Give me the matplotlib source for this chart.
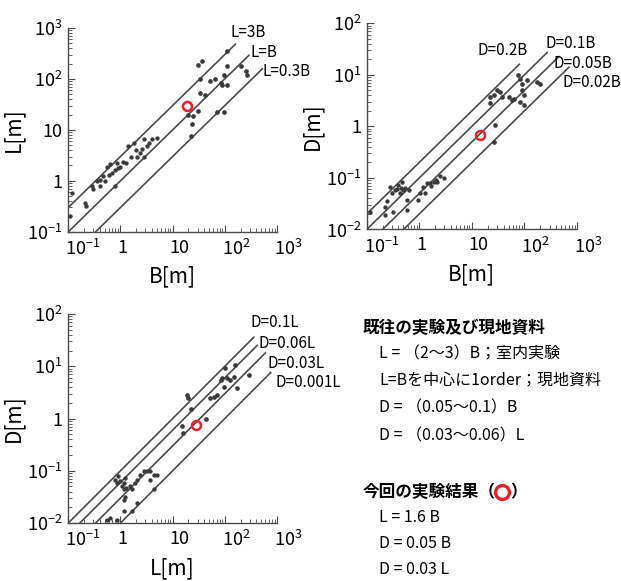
import numpy as np
import matplotlib
matplotlib.use("Agg")
import matplotlib.pyplot as plt
import matplotlib.transforms as mtrans
from matplotlib.lines import Line2D

plt.rcParams['font.family'] = ['Noto Sans CJK JP', 'DejaVu Sans']
plt.rcParams['mathtext.fontset'] = 'custom'
plt.rcParams['mathtext.rm'] = 'Noto Sans CJK JP'
plt.rcParams['mathtext.it'] = 'Noto Sans CJK JP'
plt.rcParams['mathtext.bf'] = 'Noto Sans CJK JP:bold'

# --- data ---
# top left: L vs B
tl_lab_B = [0.107, 0.12, 0.21, 0.22, 0.28, 0.3, 0.35, 0.41, 0.41, 0.47, 0.5, 0.55, 0.6, 0.63, 0.68,
            0.79, 0.79, 0.85, 0.9, 0.99, 1.1, 1.3, 1.4, 1.6, 1.8, 2.0, 2.1, 2.4, 2.6, 2.8, 2.8,
            3.2, 3.5, 4.0, 5.0]
tl_lab_L = [0.2, 0.58, 0.37, 0.32, 0.79, 0.7, 0.99, 1.06, 0.79, 1.23, 1.0, 1.9, 1.3, 2.1, 1.4,
            1.66, 0.79, 2.2, 1.8, 1.9, 2.3, 2.2, 4.8, 3.0, 5.6, 4.0, 3.0, 3.5, 4.2, 6.5, 3.0,
            4.8, 5.5, 6.5, 6.9]
tl_field_B = [30, 36, 34, 34, 42, 53, 66, 83, 96, 110, 89, 110, 110, 200, 250, 270, 30, 25, 23,
              71, 96, 22, 20]
tl_field_L = [190, 220, 98, 54, 49, 89, 98, 84, 120, 77, 77, 180, 350, 180, 140, 120, 23, 19, 13,
              22, 22, 7.6, 20]
tl_now = (19, 29)
tl_coef = [3, 1, 0.3]
tl_end = [160, 290, 525]
tl_names = ['L=3B', 'L=B', 'L=0.3B']
tl_name_xy = [(130, 800), (310, 325), (525, 137)]

# top right: D vs B
tr_lab_B = [0.115, 0.22, 0.24, 0.22, 0.3, 0.32, 0.28, 0.35, 0.38, 0.4, 0.43, 0.45, 0.47, 0.5,
            0.54, 0.58, 0.58, 0.63, 0.96, 1.05, 1.2, 1.3, 1.4, 1.6, 1.7, 1.9, 2.1, 2.2, 2.5, 2.9]
tr_lab_D = [0.022, 0.027, 0.035, 0.019, 0.05, 0.022, 0.068, 0.058, 0.06, 0.072, 0.05, 0.065, 0.083,
            0.058, 0.063, 0.037, 0.024, 0.058, 0.037, 0.05, 0.068, 0.05, 0.078, 0.078, 0.07,
            0.083, 0.09, 0.085, 0.11, 0.1]
tr_field_B = [22, 22, 26, 30, 35, 37, 50, 58, 62, 77, 83, 89, 89, 96, 110, 96, 175, 200, 27, 26, 83]
tr_field_D = [2.8, 3.7, 4.0, 5.0, 4.6, 3.7, 3.7, 3.2, 3.4, 9.7, 8.4, 6.7, 5.0, 4.0, 7.8, 2.6, 7.2,
              6.7, 1.05, 0.5, 3.0]
tr_now = (14.5, 0.68)
tr_coef = [0.2, 0.1, 0.05, 0.02]
tr_end = [80, 270, 450, 700]
tr_names = ['D=0.2B', 'D=0.1B', 'D=0.05B', 'D=0.02B']
tr_name_xy = [(12.6, 29), (250, 40), (355, 16.6), (525, 7.1)]

# bottom left: D vs L
bl_lab_L = [0.55, 0.63, 0.85, 0.85, 0.79, 0.91, 0.99, 1.07, 1.15, 1.24, 1.3, 1.5, 1.65, 1.15, 1.24,
            1.9, 2.1, 2.4, 2.8, 3.2, 3.7, 4.3, 5.0, 3.7, 1.15, 1.65, 2.1, 4.3, 1.15]
bl_lab_D = [0.0115, 0.0125, 0.0115, 0.058, 0.067, 0.078, 0.063, 0.05, 0.044, 0.032, 0.047, 0.05,
            0.044, 0.058, 0.072, 0.058, 0.067, 0.084, 0.098, 0.1, 0.098, 0.084, 0.084, 0.067,
            0.017, 0.017, 0.024, 0.044, 0.028]
bl_field_L = [20, 19, 22, 15, 16, 43, 53, 61, 71, 83, 89, 110, 127, 148, 102, 160, 173, 96, 290]
bl_field_D = [2.45, 2.8, 1.5, 0.71, 0.52, 1.0, 2.45, 2.6, 2.8, 5.5, 5.9, 5.9, 5.5, 6.3, 9.1, 10.7,
              3.8, 4.1, 6.8]
bl_now = (27.6, 0.76)
bl_coef = [0.1, 0.06, 0.03, 0.01]
bl_end = [360, 420, 600, 760]
bl_names = ['D=0.1L', 'D=0.06L', 'D=0.03L', 'D=0.001L']
bl_name_xy = [(310, 69), (445, 27.5), (665, 11.5), (940, 5.0)]

x_ticks = [0.1, 1, 10, 100, 1000]
x_labels = [r'$10^{-1}$', '1', '10', r'$10^{2}$', r'$10^{3}$']
tl_yticks = [0.1, 1, 10, 100, 1000]
tl_ylabels = [r'$10^{-1}$', '1', '10', r'$10^{2}$', r'$10^{3}$']
d_yticks = [0.01, 0.1, 1, 10, 100]
d_ylabels = [r'$10^{-2}$', r'$10^{-1}$', '1', r'$10^{1}$', r'$10^{2}$']

legend_lines = [
    ('既往の実験及び現地資料', 'head'),
    ('L = （2～3）B；室内実験', 'item'),
    ('L=Bを中心に1order；現地資料', 'item'),
    ('D = （0.05～0.1）B', 'item'),
    ('D = （0.03～0.06）L', 'item'),
    ('今回の実験結果', 'now'),
    ('L = 1.6 B', 'item'),
    ('D = 0.05 B', 'item'),
    ('D = 0.03 L', 'item'),
]
legend_y = [328, 354, 380, 408, 436, 492, 518, 544, 570]

gray = '#4a4a4a'
W, H = 621, 581
fig = plt.figure(figsize=(W / 100, H / 100), dpi=100)


def panel(rect, xs1, ys1, xs2, ys2, now, coefs, ends, names, name_xy,
          ylim, yticks, ylabels, xlabel, ylabel):
    ax = fig.add_axes(rect)
    ax.set_xscale('log')
    ax.set_yscale('log')
    ax.set_xlim(0.1, 1000)
    ax.set_ylim(*ylim)
    for c, e in zip(coefs, ends):
        x0 = max(0.1, ylim[0] / c)
        xx = np.array([x0, e])
        ax.plot(xx, c * xx, color=gray, lw=1.2)
    ax.scatter(xs1, ys1, s=4.5, color='#3a3a3a', zorder=3)
    ax.scatter(xs2, ys2, s=5.5, color='#3a3a3a', zorder=3)
    ax.plot([now[0]], [now[1]], 'o', ms=6.5, mfc='none', mec='#e8202a', mew=1.8, zorder=4)
    for nm, (px, py) in zip(names, name_xy):
        ax.text(px, py, nm, fontsize=11, ha='left', va='center', clip_on=False)
    for s in ['top', 'right']:
        ax.spines[s].set_visible(False)
    for s in ['left', 'bottom']:
        ax.spines[s].set_color(gray)
        ax.spines[s].set_linewidth(1.0)
    ax.set_xticks(x_ticks)
    ax.set_xticklabels(x_labels)
    ax.set_yticks(yticks)
    ax.set_yticklabels(ylabels)
    ax.tick_params(which='both', direction='in', colors=gray, labelcolor='black', labelsize=13)
    ax.tick_params(which='major', length=5, pad=4)
    ax.tick_params(axis='x', which='major', pad=5)
    ax.tick_params(which='minor', length=3)
    # x labels start at the tick, as in the original
    shift = mtrans.ScaledTranslation(-3 / 100, 0, fig.dpi_scale_trans)
    for lab in ax.get_xticklabels():
        lab.set_horizontalalignment('left')
        lab.set_transform(lab.get_transform() + shift)
    ax.set_xlabel(xlabel, fontsize=15, labelpad=5)
    ax.set_ylabel(ylabel, fontsize=15, labelpad=2)
    return ax


panel([0.110, 0.601, 0.336, 0.351], tl_lab_B, tl_lab_L, tl_field_B, tl_field_L, tl_now,
      tl_coef, tl_end, tl_names, tl_name_xy, (0.1, 1000), tl_yticks, tl_ylabels, 'B[m]', 'L[m]')
panel([0.5905, 0.605, 0.3387, 0.355], tr_lab_B, tr_lab_D, tr_field_B, tr_field_D, tr_now,
      tr_coef, tr_end, tr_names, tr_name_xy, (0.01, 100), d_yticks, d_ylabels, 'B[m]', 'D[m]')
panel([0.110, 0.0998, 0.336, 0.3597], bl_lab_L, bl_lab_D, bl_field_L, bl_field_D, bl_now,
      bl_coef, bl_end, bl_names, bl_name_xy, (0.01, 100), d_yticks, d_ylabels, 'L[m]', 'D[m]')

# legend text block
fig.canvas.draw()
r = fig.canvas.get_renderer()
for (txt, kind), y in zip(legend_lines, legend_y):
    fy = 1 - y / H
    if kind == 'item':
        fig.text(379 / W, fy, txt, fontsize=11.5, va='center', ha='left')
    else:
        t = fig.text(363 / W, fy, txt if kind == 'head' else txt + '（', fontsize=12,
                     fontweight='bold', va='center', ha='left')
        if kind == 'now':
            bb = t.get_window_extent(r)
            cx = bb.x1 + 6
            fig.add_artist(Line2D([cx / W], [fy], marker='o', ms=10, mfc='none',
                                  mec='#e8202a', mew=2.4, transform=fig.transFigure))
            fig.text((cx + 8) / W, fy, '）', fontsize=12, fontweight='bold',
                     va='center', ha='left')

fig.savefig('out.png', dpi=100)
